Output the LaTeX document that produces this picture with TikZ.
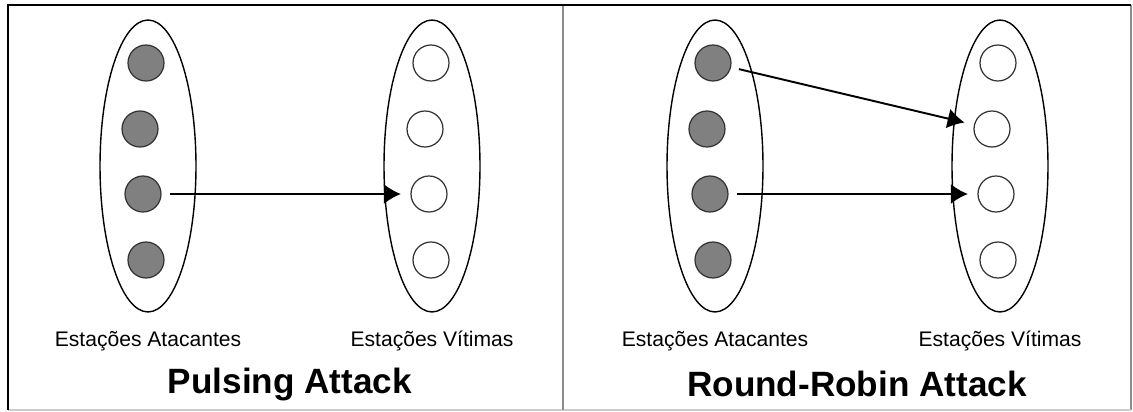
\documentclass[tikz,border=0pt]{standalone}
\usepackage{fontspec}
\setmainfont{Liberation Sans}
\usepackage{tikz}
\usetikzlibrary{positioning}
\usetikzlibrary{arrows.meta,shapes.geometric}
\usepackage{xcolor}
\definecolor{HostColor}{HTML}{808080}
\definecolor{FrameGray}{HTML}{8c8c8c}

\begin{document}
\begin{tikzpicture}[x=0.02cm,y=-0.02cm,
		group/.style={draw,ellipse,line width=0.8pt,minimum width=1.92cm,minimum height=5.84cm,inner sep=0},
		attacker/.style={draw=black!80,circle,fill=HostColor,line width=0.7pt,minimum size=0.72cm,inner sep=0},
		victim/.style={draw=black!80,circle,fill=white,line width=0.7pt,minimum size=0.72cm,inner sep=0},
		grouplabel/.style={font=\fontsize{12}{14}\selectfont},
		attack/.style={font=\fontsize{20}{24}\selectfont\bfseries},
		hit/.style={-{Latex[length=0.34cm,width=0.4cm]},line width=1.1pt,shorten <=0.16cm,shorten >=0.19cm}]
				\useasboundingbox (0,0) rectangle (1133,412);

				% frame and divider
				\draw[FrameGray,line width=1pt] (1131,5) -- (1131,410);
				\draw[black!20,line width=1pt] (8,410) -- (1131,410);
				\draw[FrameGray,line width=1.2pt] (563,5) -- (563,410);
				\draw[line width=1.7pt] (8,410) -- (8,5) -- (1131,5);

				% pulsing attack
				\node[group](patk) at (148,166) {};
				\node[group](pvic) at (432,166) {};
				\node[attacker](patk1) at (146,63) {};
				\node[attacker](patk2) at (140,129) {};
				\node[attacker](patk3) at (143,194) {};
				\node[attacker](patk4) at (146,260) {};
				\node[victim](pvic1) at (431,63) {};
				\node[victim](pvic2) at (425,129) {};
				\node[victim](pvic3) at (429,194) {};
				\node[victim](pvic4) at (431,260) {};
				\node[grouplabel,below=0.24cm of patk](patklabel) {Estações Atacantes};
				\node[grouplabel,below=0.24cm of pvic](pviclabel) {Estações Vítimas};
				\node[attack](pulse) at (290,384) {Pulsing Attack};

				% round-robin attack
				\node[group](ratk) at (715,166) {};
				\node[group](rvic) at (1000,166) {};
				\node[attacker](ratk1) at (713,63) {};
				\node[attacker](ratk2) at (707,129) {};
				\node[attacker](ratk3) at (710,194) {};
				\node[attacker](ratk4) at (713,260) {};
				\node[victim](rvic1) at (998,63) {};
				\node[victim](rvic2) at (992,129) {};
				\node[victim](rvic3) at (996,194) {};
				\node[victim](rvic4) at (998,260) {};
				\node[grouplabel,below=0.24cm of ratk](ratklabel) {Estações Atacantes};
				\node[grouplabel,below=0.24cm of rvic](rviclabel) {Estações Vítimas};
				\node[attack](robin) at (857,384) {Round-Robin Attack};

				\draw[hit] (patk3) to (pvic3);
				\draw[hit] (ratk1) to (rvic2);
				\draw[hit] (ratk3) to (rvic3);

			\end{tikzpicture}
\end{document}
